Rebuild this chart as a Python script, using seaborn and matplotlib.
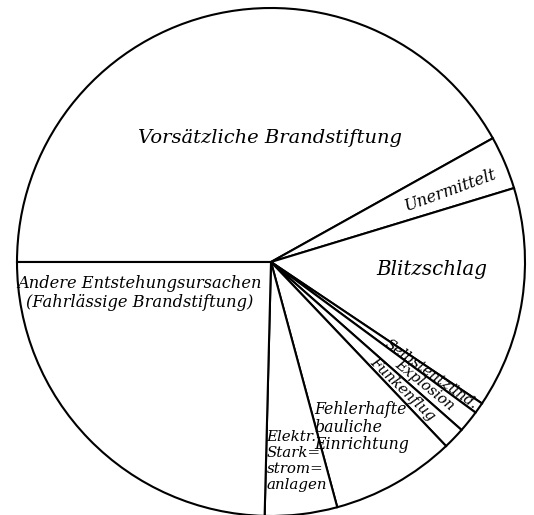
import matplotlib
matplotlib.use("Agg")
import numpy as np
import matplotlib.pyplot as plt
import seaborn as sns

# Fire causes, share of all fires (percent), clockwise from the left
causes = [
    "Vorsätzliche Brandstiftung",
    "Unermittelt",
    "Blitzschlag",
    "Selbstentzünd.",
    "Explosion",
    "Funkenflug",
    "Fehlerhafte\nbauliche\nEinrichtung",
    "Elektr.\nStark=\nstrom=\nanlagen",
    "Andere Entstehungsursachen\n(Fahrlässige Brandstiftung)",
]
shares = [41.9, 3.4, 14.1, 0.7, 1.4, 1.4, 7.9, 4.6, 24.6]

# label layout: x, y, fontsize, rotation, ha, linespacing
# (y=None -> x is a radius and the label is written along the middle of the wedge)
label_layout = [
    (-0.004, 0.488, 14, 0, "center", 1.0),
    (0.705, 0.283, 11.7, 20, "center", 1.0),
    (0.634, -0.031, 14.3, 0, "center", 1.0),
    (0.77, None, 10.5, None, "center", 1.0),
    (0.775, None, 10.5, None, "center", 1.0),
    (0.72, None, 10.5, None, "center", 1.0),
    (0.172, -0.650, 11.3, 0, "left", 1.03),
    (-0.018, -0.783, 10.8, 0, "left", 1.17),
    (-0.516, -0.122, 11.7, 0, "center", 1.18),
]

sns.set_theme(style="white")
plt.rcParams["font.family"] = ["DejaVu Serif", "DejaVu Sans"]

fig = plt.figure(figsize=(5.34, 5.15), dpi=100)
ax = fig.add_axes([0, 0, 1, 1])

wedges, _ = ax.pie(
    shares,
    startangle=180,
    counterclock=False,
    colors=["white"] * len(shares),
    wedgeprops=dict(edgecolor="black", linewidth=1.5),
)

for wedge, text, (x, y, size, rot, ha, ls) in zip(wedges, causes, label_layout):
    if y is None:
        # narrow slices: write along the middle of the wedge
        ang = (wedge.theta1 + wedge.theta2) / 2
        x, y = x * np.cos(np.deg2rad(ang)), x * np.sin(np.deg2rad(ang))
        rot = ang
    ax.text(x, y, text, ha=ha, va="center", fontsize=size, rotation=rot,
            rotation_mode="anchor", style="italic", linespacing=ls,
            multialignment="left" if ha == "left" else "center", color="black")

ax.set_xlim(-271 / 254, 263 / 254)
ax.set_ylim(-253 / 254, 262 / 254)
ax.set_aspect("auto")
ax.axis("off")

fig.savefig("out.png", dpi=100, facecolor="white")
